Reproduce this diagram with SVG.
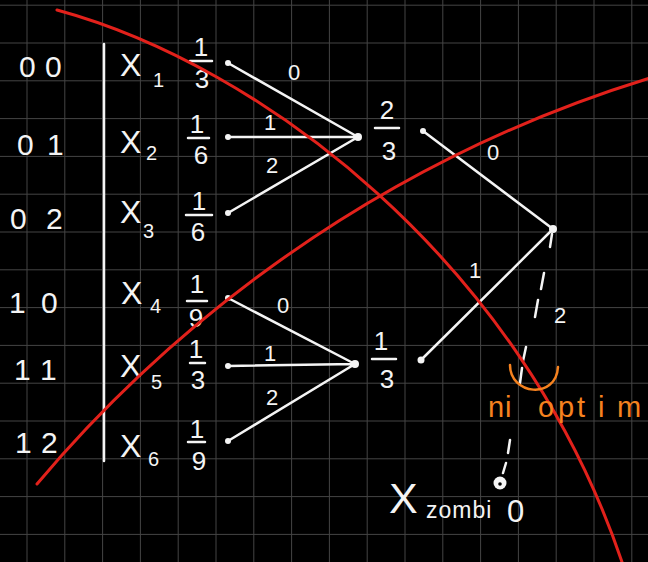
<svg xmlns="http://www.w3.org/2000/svg" width="648" height="562" viewBox="0 0 648 562">
<defs>
<style>
.grid line{stroke:#454545;stroke-width:1}
.w{fill:#f4f4f4;font-family:"Liberation Sans",Arial,sans-serif}
.edge{stroke:#f4f4f4;stroke-width:2.5;fill:none;stroke-linecap:round}
.dot{fill:#f4f4f4}
.red{stroke:#e2211b;stroke-width:3;fill:none;stroke-linecap:round}
.or{fill:#f5821f;font-family:"Liberation Sans",Arial,sans-serif}
.lab{font-size:30px}
.xl{font-size:32px}
.sub{font-size:20px}
.fr{font-size:26px;text-anchor:middle}
.el{font-size:22px;text-anchor:middle}
</style>
</defs>
<rect width="648" height="562" fill="#000"/>
<g class="grid">
<line x1="27" y1="0" x2="27" y2="562"/><line x1="64.8" y1="0" x2="64.8" y2="562"/><line x1="102.6" y1="0" x2="102.6" y2="562"/><line x1="140.4" y1="0" x2="140.4" y2="562"/><line x1="178.2" y1="0" x2="178.2" y2="562"/><line x1="216" y1="0" x2="216" y2="562"/><line x1="253.8" y1="0" x2="253.8" y2="562"/><line x1="291.6" y1="0" x2="291.6" y2="562"/><line x1="329.4" y1="0" x2="329.4" y2="562"/><line x1="367.2" y1="0" x2="367.2" y2="562"/><line x1="405" y1="0" x2="405" y2="562"/><line x1="442.8" y1="0" x2="442.8" y2="562"/><line x1="480.6" y1="0" x2="480.6" y2="562"/><line x1="518.4" y1="0" x2="518.4" y2="562"/><line x1="556.2" y1="0" x2="556.2" y2="562"/><line x1="594" y1="0" x2="594" y2="562"/><line x1="631.8" y1="0" x2="631.8" y2="562"/>
<line x1="0" y1="5.2" x2="648" y2="5.2"/><line x1="0" y1="43" x2="648" y2="43"/><line x1="0" y1="80.8" x2="648" y2="80.8"/><line x1="0" y1="118.6" x2="648" y2="118.6"/><line x1="0" y1="156.4" x2="648" y2="156.4"/><line x1="0" y1="194.2" x2="648" y2="194.2"/><line x1="0" y1="232" x2="648" y2="232"/><line x1="0" y1="269.8" x2="648" y2="269.8"/><line x1="0" y1="307.6" x2="648" y2="307.6"/><line x1="0" y1="345.4" x2="648" y2="345.4"/><line x1="0" y1="383.2" x2="648" y2="383.2"/><line x1="0" y1="421" x2="648" y2="421"/><line x1="0" y1="458.8" x2="648" y2="458.8"/><line x1="0" y1="496.6" x2="648" y2="496.6"/><line x1="0" y1="534.4" x2="648" y2="534.4"/>
</g>
<line x1="104" y1="44" x2="104" y2="461" class="edge"/>
<g id="codes">
<text class="w lab" x="19 45" y="77">00</text>
<text class="w lab" x="17 47" y="155">01</text>
<text class="w lab" x="10 46" y="229">02</text>
<text class="w lab" x="9 41" y="313">10</text>
<text class="w lab" x="14 40" y="380">11</text>
<text class="w lab" x="15 41" y="453">12</text>
</g>
<g id="x1"><text class="w xl" x="120" y="76">X</text><text class="w sub" x="153" y="87">1</text><text class="w fr" x="201" y="56">1</text><line x1="190" y1="61" x2="212" y2="61" class="edge"/><text class="w fr" x="202" y="88">3</text><circle class="dot" cx="228" cy="63" r="3"/></g>
<g id="x2"><text class="w xl" x="120" y="153">X</text><text class="w sub" x="146" y="160">2</text><text class="w fr" x="197" y="133">1</text><line x1="188" y1="138" x2="209" y2="138" class="edge"/><text class="w fr" x="201" y="164">6</text><circle class="dot" cx="228" cy="137" r="3"/></g>
<g id="x3"><text class="w xl" x="120" y="223">X</text><text class="w sub" x="143" y="238">3</text><text class="w fr" x="199" y="210">1</text><line x1="186" y1="215" x2="212" y2="215" class="edge"/><text class="w fr" x="198" y="241">6</text><circle class="dot" cx="228" cy="213" r="3"/></g>
<g id="x4"><text class="w xl" x="121" y="304">X</text><text class="w sub" x="150" y="313">4</text><text class="w fr" x="197" y="293">1</text><line x1="187" y1="301" x2="207" y2="301" class="edge"/><text class="w fr" x="196" y="327">9</text><circle class="dot" cx="228" cy="298" r="3"/></g>
<g id="x5"><text class="w xl" x="120" y="377">X</text><text class="w sub" x="151" y="389">5</text><text class="w fr" x="196" y="358">1</text><line x1="190" y1="363" x2="205" y2="363" class="edge"/><text class="w fr" x="198" y="389">3</text><circle class="dot" cx="228" cy="366" r="3"/></g>
<g id="x6"><text class="w xl" x="120" y="457">X</text><text class="w sub" x="148" y="466">6</text><text class="w fr" x="197" y="438">1</text><line x1="188" y1="442" x2="205" y2="442" class="edge"/><text class="w fr" x="199" y="470">9</text><circle class="dot" cx="228" cy="441" r="3"/></g>
<g id="n23"><circle class="dot" cx="358" cy="137" r="4"/><text class="w fr" x="387" y="119">2</text><line x1="375" y1="128" x2="399" y2="128" class="edge"/><text class="w fr" x="389" y="160">3</text><circle class="dot" cx="423" cy="131" r="3"/></g>
<g id="n13"><circle class="dot" cx="355" cy="364" r="4"/><text class="w fr" x="381" y="350">1</text><line x1="372" y1="359" x2="396" y2="359" class="edge"/><text class="w fr" x="387" y="388">3</text><circle class="dot" cx="421" cy="360" r="3.5"/></g>
<g id="root"><circle class="dot" cx="553" cy="229" r="4"/></g>
<g id="zombi"><circle class="dot" cx="500" cy="483" r="6.5"/><circle cx="500" cy="484" r="1.8" fill="#000"/><text class="w" x="389" y="513" font-size="43">X</text><text class="w" x="426" y="518" font-size="23" letter-spacing="1">zombi</text><text class="w" x="507" y="522" font-size="31">0</text></g>
<g id="connectors">
<path class="edge" d="M228,63 L358,137 M228,137 L358,137 M228,213 L358,137 M228,298 L355,364 M228,366 L355,364 M228,441 L355,364 M423,131 L553,229 M421,360 L553,229"/>
<path class="edge" d="M552,234 L550,247 M544,273 L541,289 M538,300 L535,317 M526,347 L523,361 M522,368 L520,383 M510,440 L508,453 M506,463 L503,473"/>
<text class="w el" x="294" y="80">0</text><text class="w el" x="270" y="130">1</text><text class="w el" x="272" y="173">2</text>
<text class="w el" x="283" y="313">0</text><text class="w el" x="270" y="361">1</text><text class="w el" x="272" y="405">2</text>
<text class="w el" x="493" y="160">0</text><text class="w el" x="475" y="278">1</text><text class="w el" x="560" y="323">2</text>
</g>
<path class="red" d="M57,10 C260,65 520,260 622,562"/>
<path class="red" d="M37,484 C150,350 350,170 650,78"/>
<g id="note">
<path d="M510,365 C510,395 556,400 558,367" stroke="#f5821f" stroke-width="2.5" fill="none" stroke-linecap="round"/>
<text class="or" x="488 505" y="417" font-size="29">ni</text>
<text class="or" x="538 558 577 598 617" y="417" font-size="29">optim</text>
</g>
</svg>
